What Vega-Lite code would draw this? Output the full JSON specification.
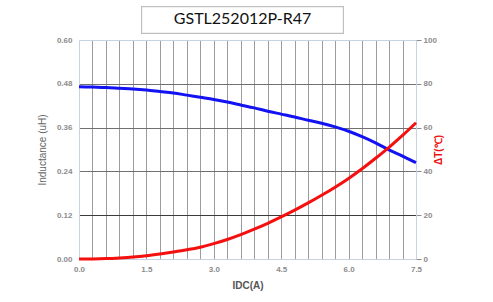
{
  "$schema": "https://vega.github.io/schema/vega-lite/v6.json",
  "width": 337,
  "height": 219,
  "autosize": "none",
  "padding": {"left": 79, "top": 40, "right": 77, "bottom": 43},
  "background": "white",
  "title": {"text": "GSTL252012P-R47", "font": "Lato", "fontSize": 16, "fontWeight": "normal", "color": "#111111", "anchor": "middle", "dx": -5, "offset": -21},
  "config": {"view": {"stroke": null}, "axis": {"labelFont": "Liberation Sans", "titleFont": "Liberation Sans"}},
  "data": {"values": [
    {"I": 0.0, "L": 0.472, "T": 0.0},
    {"I": 0.3, "L": 0.471, "T": 0.05},
    {"I": 0.6, "L": 0.470, "T": 0.2},
    {"I": 0.9, "L": 0.468, "T": 0.5},
    {"I": 1.2, "L": 0.466, "T": 0.9},
    {"I": 1.5, "L": 0.463, "T": 1.5},
    {"I": 1.8, "L": 0.459, "T": 2.3},
    {"I": 2.1, "L": 0.455, "T": 3.2},
    {"I": 2.4, "L": 0.449, "T": 4.2},
    {"I": 2.7, "L": 0.443, "T": 5.4},
    {"I": 3.0, "L": 0.437, "T": 7.0},
    {"I": 3.3, "L": 0.430, "T": 8.9},
    {"I": 3.6, "L": 0.422, "T": 11.1},
    {"I": 3.9, "L": 0.414, "T": 13.6},
    {"I": 4.2, "L": 0.405, "T": 16.3},
    {"I": 4.5, "L": 0.397, "T": 19.2},
    {"I": 4.8, "L": 0.389, "T": 22.3},
    {"I": 5.1, "L": 0.380, "T": 25.6},
    {"I": 5.4, "L": 0.372, "T": 29.1},
    {"I": 5.7, "L": 0.362, "T": 32.8},
    {"I": 6.0, "L": 0.350, "T": 36.8},
    {"I": 6.3, "L": 0.335, "T": 41.2},
    {"I": 6.6, "L": 0.318, "T": 46.0},
    {"I": 6.9, "L": 0.299, "T": 51.0},
    {"I": 7.2, "L": 0.282, "T": 56.4},
    {"I": 7.5, "L": 0.264, "T": 62.2}
  ]},
  "layer": [
    {
      "mark": {"type": "rect", "fill": "white", "stroke": "#bbbbbb", "strokeWidth": 1, "clip": false},
      "encoding": {
        "x": {"datum": 1.395, "type": "quantitative", "scale": {"domain": [0, 7.5], "nice": false, "zero": false},
          "axis": {
            "values": [0, 0.3, 0.6, 0.9, 1.2, 1.5, 1.8, 2.1, 2.4, 2.7, 3.0, 3.3, 3.6, 3.9, 4.2, 4.5, 4.8, 5.1, 5.4, 5.7, 6.0, 6.3, 6.6, 6.9, 7.2, 7.5],
            "tickCount": 30,
            "labelExpr": "indexof(['0.0','1.5','3.0','4.5','6.0','7.5'], format(datum.value, '.1f')) >= 0 ? format(datum.value, '.1f') : ''",
            "labelOverlap": false,
            "labelFlush": false,
            "labelFontSize": 8,
            "labelFontWeight": "bold",
            "labelColor": "#8c8c8c",
            "labelPadding": 6,
            "ticks": false,
            "domain": false,
            "grid": true,
            "gridColor": {"condition": {"test": "datum.value == 0 || datum.value == 7.5", "value": "#c5d3e3"}, "value": "#9c9c9c"},
            "gridWidth": 1,
            "title": "IDC(A)",
            "titleFontSize": 10,
            "titleFontWeight": "bold",
            "titleColor": "#555555",
            "titlePadding": 7
          }},
        "x2": {"datum": 5.883},
        "y": {"datum": 0.6184, "type": "quantitative", "scale": {"domain": [0, 0.6], "nice": false}, "axis": null},
        "y2": {"datum": 0.6912}
      }
    },
    {
      "mark": {"type": "line", "color": "#1212f2", "strokeWidth": 3, "interpolate": "monotone"},
      "encoding": {
        "x": {"field": "I", "type": "quantitative"},
        "y": {
          "field": "L", "type": "quantitative",
          "scale": {"domain": [0, 0.6], "nice": false},
          "axis": {
            "orient": "left",
            "values": [0, 0.12, 0.24, 0.36, 0.48, 0.6],
            "tickCount": 10,
            "format": ".2f",
            "labelFontSize": 8,
            "labelFontWeight": "bold",
            "labelColor": "#8c8c8c",
            "labelPadding": 7,
            "ticks": false,
            "domainColor": "#c5d3e3",
            "grid": true,
            "gridColor": {"condition": [
              {"test": "datum.value >= 0.59", "value": "#c5d3e3"},
              {"test": "datum.value > 0.1 && datum.value < 0.13", "value": "#3c3c3c"},
              {"test": "datum.value < 0.01", "value": "#c5d3e3"}
            ], "value": "#707070"},
            "title": "Inductance  (uH)",
            "titleFontSize": 10,
            "titleFontWeight": "normal",
            "titleColor": "#666666",
            "titlePadding": 9
          }
        }
      }
    },
    {
      "mark": {"type": "line", "color": "#f50f0f", "strokeWidth": 3, "interpolate": "monotone"},
      "encoding": {
        "x": {"field": "I", "type": "quantitative"},
        "y": {
          "field": "T", "type": "quantitative",
          "scale": {"domain": [0, 100], "nice": false},
          "axis": {
            "orient": "right",
            "values": [0, 20, 40, 60, 80, 100],
            "tickCount": 10,
            "labelFontSize": 8,
            "labelFontWeight": "bold",
            "labelColor": "#8c8c8c",
            "labelPadding": 2,
            "ticks": true,
            "tickSize": 5,
            "tickColor": "#8c8c8c",
            "domainColor": "#c5d3e3",
            "grid": false,
            "title": "ΔT(℃)",
            "titleAngle": 270,
            "titleFontSize": 10,
            "titleFontWeight": "bold",
            "titleColor": "#ee1111",
            "titlePadding": 7
          }
        }
      }
    }
  ],
  "resolve": {"scale": {"y": "independent"}, "axis": {"y": "independent"}}
}
